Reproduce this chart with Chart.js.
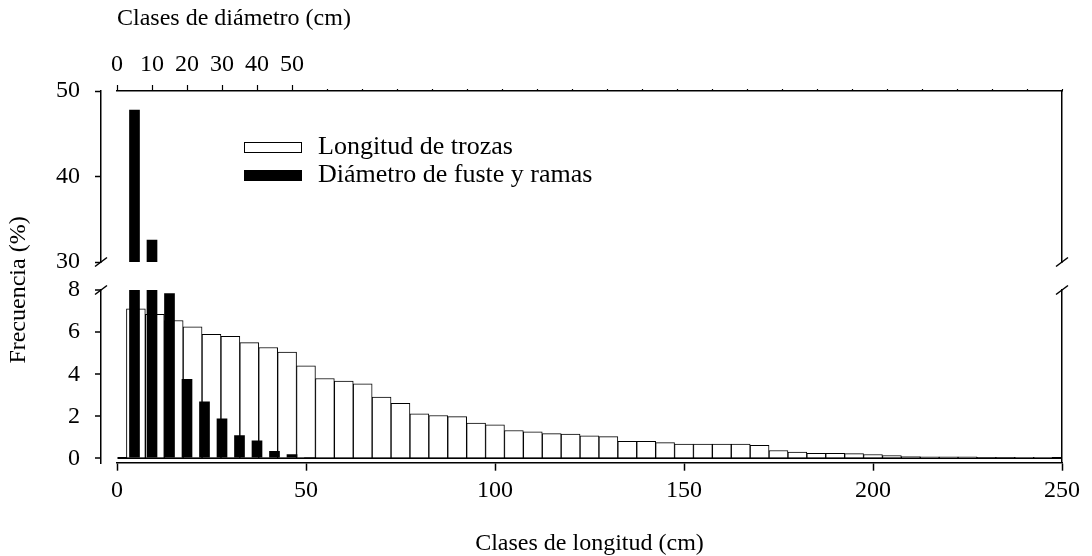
<!DOCTYPE html>
<html>
<head>
<meta charset="utf-8">
<script src="https://cdn.jsdelivr.net/npm/chart.js@4/dist/chart.umd.min.js"></script>
<style>
    html, body { margin: 0; padding: 0; background: #fff; }
    #wrap { position: relative; width: 1092px; height: 556px; }
</style>
</head>
<body>
<div id="wrap"><canvas id="chart"></canvas></div>
<script>
// Centro de cada clase de longitud (cm) y su frecuencia (%)
const lengthClasses = [5, 10, 15, 20, 25, 30, 35, 40, 45, 50, 55, 60, 65, 70, 75, 80, 85, 90, 95, 100,
    105, 110, 115, 120, 125, 130, 135, 140, 145, 150, 155, 160, 165, 170, 175, 180, 185, 190, 195, 200,
    205, 210, 215, 220, 225, 230, 235, 240, 245];
const lengthFreq = [7.1, 6.85, 6.55, 6.25, 5.9, 5.8, 5.5, 5.27, 5.05, 4.4, 3.8, 3.68, 3.55, 2.92, 2.62,
    2.12, 2.04, 1.99, 1.68, 1.6, 1.33, 1.27, 1.18, 1.16, 1.08, 1.04, 0.81, 0.81, 0.75, 0.69, 0.69, 0.68,
    0.68, 0.63, 0.38, 0.31, 0.25, 0.25, 0.23, 0.19, 0.14, 0.09, 0.08, 0.08, 0.08, 0.05, 0.05, 0.03, 0.03];

// Centro de cada clase de diametro (cm) y su frecuencia (%)
const diameterClasses = [5, 10, 15, 20, 25, 30, 35, 40, 45, 50, 55];
const diameterFreq = [47.8, 32.6, 7.85, 3.78, 2.7, 1.9, 1.1, 0.85, 0.35, 0.2, 0.07];

// Marcas de los ejes
const lengthTicks = [0, 50, 100, 150, 200, 250];
const diameterTicks = [0, 10, 20, 30, 40, 50, 60, 70, 80, 90, 100, 110, 120, 130, 140, 150, 160, 170,
    180, 190, 200, 210, 220, 230, 240, 250, 260, 270];
const diameterLabelMax = 50;
const upperTicks = [30, 40, 50];
const lowerTicks = [0, 2, 4, 6, 8];

const labels = {
    length: 'Longitud de trozas',
    diameter: 'Diámetro de fuste y ramas',
    xBottom: 'Clases de longitud (cm)',
    xTop: 'Clases de diámetro (cm)',
    y: 'Frecuencia (%)'
};

const FAMILY = "'Liberation Serif', 'Times New Roman', serif";
const font = { family: FAMILY, size: 24 };
const INK = '#000';

const toPoints = (xs, ys) => xs.map((x, i) => ({ x: x, y: ys[i] }));
const fixTicks = list => scale => { scale.ticks = list.map(v => ({ value: v })); };

// eje vertical sin marcas, solo la linea (lado derecho y hueco del corte)
const plainAxis = (pos, stack, weight, width) => ({
    type: 'linear', position: pos, stack: stack, stackWeight: weight, weight: 1,
    grid: { display: false },
    ticks: { display: false },
    border: { display: width !== null, color: INK, width: 1.5 },
    afterFit: s => { s.width = width || 0; }
});

// marcas de corte del eje y (dos rayitas en cada lado)
const breakMarks = {
    id: 'breakMarks',
    afterDraw(chart) {
        const { ctx, scales } = chart;
        const yTop = scales.yTop, yBot = scales.yBot;
        const xs = [yTop.right, scales.yTopR.left];
        ctx.save();
        ctx.strokeStyle = INK;
        ctx.lineWidth = 1.5;
        xs.forEach(x => {
            [yTop.bottom, yBot.top].forEach(y => {
                ctx.beginPath();
                ctx.moveTo(x - 6, y + 4.5);
                ctx.lineTo(x + 6, y - 4.5);
                ctx.stroke();
            });
        });
        ctx.restore();
    }
};

// leyenda dentro del area del grafico y titulo vertical compartido
const boxLegend = {
    id: 'boxLegend',
    afterDraw(chart) {
        const { ctx } = chart;
        const items = [chart.data.datasets[0], chart.data.datasets[1]];
        ctx.save();
        ctx.font = `26px ${FAMILY}`;
        ctx.textBaseline = 'middle';
        items.forEach((ds, i) => {
            const y = 142 + i * 28;
            ctx.fillStyle = ds.backgroundColor;
            ctx.fillRect(244, y, 57, 10);
            ctx.strokeStyle = INK;
            ctx.lineWidth = 1;
            ctx.strokeRect(244.5, y + 0.5, 57, 10);
            ctx.fillStyle = INK;
            ctx.fillText(ds.label, 318, y + 5);
        });

        ctx.translate(19, 290);
        ctx.rotate(-Math.PI / 2);
        ctx.textAlign = 'center';
        ctx.font = `24px ${FAMILY}`;
        ctx.fillText(labels.y, 0, 0);
        ctx.restore();
    }
};

new Chart(document.getElementById('chart'), {
    type: 'bar',
    data: {
        datasets: [{
            label: labels.length,
            data: toPoints(lengthClasses, lengthFreq),
            xAxisID: 'xLen',
            yAxisID: 'yBot',
            backgroundColor: '#fff',
            borderColor: INK,
            borderWidth: 1,
            barPercentage: 1,
            categoryPercentage: 1,
            grouped: false,
            order: 2
        }, {
            label: labels.diameter,
            data: toPoints(diameterClasses, diameterFreq),
            xAxisID: 'xDia',
            yAxisID: 'yBot',
            backgroundColor: INK,
            borderWidth: 0,
            barPercentage: 0.61,
            categoryPercentage: 1,
            grouped: false,
            order: 1
        }, {
            label: labels.diameter,
            data: toPoints(diameterClasses, diameterFreq),
            xAxisID: 'xDia',
            yAxisID: 'yTop',
            backgroundColor: INK,
            borderWidth: 0,
            barPercentage: 0.61,
            categoryPercentage: 1,
            grouped: false,
            order: 1
        }]
    },
    options: {
        responsive: true,
        maintainAspectRatio: false,
        animation: false,
        events: [],
        layout: { padding: { left: 0, top: 0, right: 30, bottom: 0 } },
        plugins: {
            legend: { display: false },
            tooltip: { enabled: false }
        },
        scales: {
            xLen: {
                type: 'linear', position: 'bottom', min: 0, max: 250, offset: false,
                afterBuildTicks: fixTicks(lengthTicks),
                afterFit: s => { s.height = 93.3; },
                grid: { offset: false, drawOnChartArea: false, tickLength: 8, tickColor: INK, tickWidth: 1.5 },
                border: { color: INK, width: 1.5 },
                ticks: { color: INK, font: font, padding: 6, autoSkip: false, maxRotation: 0 },
                title: { display: true, text: labels.xBottom, color: INK, font: font, padding: { top: 0, bottom: -2 } }
            },
            xDia: {
                type: 'linear', position: 'top', min: 0, max: 270, offset: false,
                afterBuildTicks: fixTicks(diameterTicks),
                afterFit: s => { s.height = 91; },
                grid: {
                    offset: false, drawOnChartArea: false, tickLength: 6, tickColor: INK, tickWidth: 1.2,
                    tickBorderDash: c => c.tick && c.tick.value > diameterLabelMax ? [0, 4, 2, 10] : []
                },
                border: { color: INK, width: 1.5 },
                ticks: {
                    color: INK, font: font, padding: 5.5, autoSkip: false, maxRotation: 0,
                    callback: v => v <= diameterLabelMax ? v : ''
                },
                title: { display: true, text: labels.xTop, color: INK, font: font, align: 'start', padding: { top: 4.5, bottom: 0 } }
            },
            // el eje izquierdo se apila de abajo hacia arriba: yBot, hueco, yTop
            yBot: {
                type: 'linear', position: 'left', stack: 'left', stackWeight: 172.7, weight: 1,
                min: -0.2, max: 8, z: 1,
                afterBuildTicks: fixTicks(lowerTicks),
                afterFit: s => { s.width = 101; },
                grid: {
                    drawOnChartArea: true, tickLength: 6, tickColor: INK, tickWidth: 1.5,
                    color: c => c.tick && c.tick.value === 0 ? INK : 'rgba(0,0,0,0)',
                    lineWidth: 2
                },
                border: { color: INK, width: 1.5 },
                ticks: { color: INK, font: font, padding: 15 }
            },
            yGap: {
                type: 'linear', position: 'left', stack: 'left', stackWeight: 28, weight: 1,
                display: false
            },
            yTop: {
                type: 'linear', position: 'left', stack: 'left', stackWeight: 171, weight: 1,
                min: 30, max: 50,
                afterBuildTicks: fixTicks(upperTicks),
                afterFit: s => { s.width = 101; },
                grid: { drawOnChartArea: false, tickLength: 6, tickColor: INK, tickWidth: 1.5 },
                border: { color: INK, width: 1.5 },
                ticks: { color: INK, font: font, padding: 15 }
            },
            // separacion entre el eje y y el inicio de las clases
            yPad: {
                type: 'linear', position: 'left', weight: 0,
                grid: { display: false },
                ticks: { display: false },
                border: { display: false },
                afterFit: s => { s.width = 16; }
            },
            yTopR: plainAxis('right', 'right', 171, 0),
            yGapR: Object.assign(plainAxis('right', 'right', 28, null), { display: false }),
            yBotR: plainAxis('right', 'right', 172.7, 0)
        }
    },
    plugins: [breakMarks, boxLegend]
});
</script>
</body>
</html>
